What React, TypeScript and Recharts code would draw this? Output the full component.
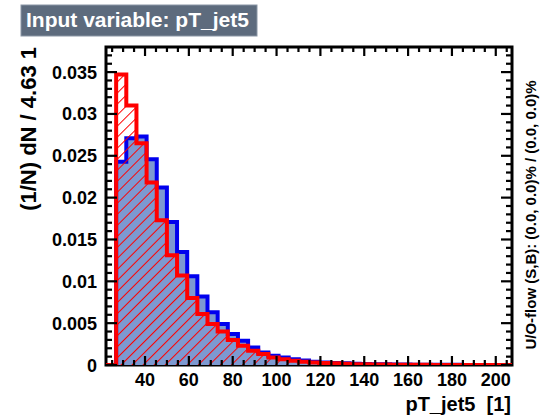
import React from "react";
import { ComposedChart, Area, XAxis, YAxis, ReferenceArea } from "recharts";

// ---- data (normalised histograms, bin width 4.63) ----
const X_MIN = 22.2;
const BIN_W = 4.63;
const Y_MAX = 0.038;

const sigValues = [
  0, 0.0243, 0.0271, 0.0273, 0.0246, 0.0212, 0.0171, 0.0135, 0.0106, 0.0082,
  0.0063, 0.0049, 0.0037, 0.0029, 0.0021, 0.0015, 0.0011, 0.0009, 0.0007, 0.00055,
  0.0004, 0.0003, 0.00025, 0.0002, 0.00015, 0.00012, 0.0001, 0.00008, 0.00006, 0.00005,
  0.00004, 0.00003, 0.00003, 0.00002, 0.00002, 0.00001, 0.00001, 0.00001, 0.00001, 0.00001,
];

const bkgValues = [
  0, 0.0347, 0.031, 0.0265, 0.0218, 0.0173, 0.0131, 0.0107, 0.008, 0.0061,
  0.0049, 0.004, 0.003, 0.0023, 0.0017, 0.0013, 0.0009, 0.0007, 0.0005, 0.0004,
  0.0003, 0.00025, 0.0002, 0.00015, 0.0001, 0.00008, 0.00006, 0.00005, 0.00004, 0.00003,
  0.00002, 0.00002, 0.00001, 0.00001, 0.00001, 0, 0, 0, 0, 0,
];

const xTicks = [
  25, 30, 35, 40, 45, 50, 55, 60, 65, 70, 75, 80, 85, 90, 95, 100, 105, 110, 115, 120,
  125, 130, 135, 140, 145, 150, 155, 160, 165, 170, 175, 180, 185, 190, 195, 200, 205,
];
const xMajorLabels = [40, 60, 80, 100, 120, 140, 160, 180, 200];

const yTicks = [
  0, 0.001, 0.002, 0.003, 0.004, 0.005, 0.006, 0.007, 0.008, 0.009, 0.01, 0.011, 0.012,
  0.013, 0.014, 0.015, 0.016, 0.017, 0.018, 0.019, 0.02, 0.021, 0.022, 0.023, 0.024,
  0.025, 0.026, 0.027, 0.028, 0.029, 0.03, 0.031, 0.032, 0.033, 0.034, 0.035, 0.036, 0.037,
];
const yMajorLabels = ["0", "0.005", "0.01", "0.015", "0.02", "0.025", "0.03", "0.035"];

const titleText = "Input variable: pT_jet5";
const yTitle = "(1/N) dN / 4.63 1";
const xTitle = "pT_jet5  [1]";
const flowText = "U/O-flow (S,B): (0.0, 0.0)% / (0.0, 0.0)%";

const X_MAX = X_MIN + BIN_W * sigValues.length;
const tableData = sigValues.map((s, i) => ({ x: X_MIN + i * BIN_W, s, b: bkgValues[i] }));
tableData.push({
  x: X_MAX,
  s: sigValues[sigValues.length - 1],
  b: bkgValues[bkgValues.length - 1],
});

// ---- layout ----
const W = 545;
const H = 420;
const M_TOP = 47;
const M_RIGHT = 33;
const Y_AXIS_W = 106;
const X_AXIS_H = 55;
const PLOT_W = W - Y_AXIS_W - M_RIGHT;
const PLOT_H = H - M_TOP - X_AXIS_H;
const FONT = "'Liberation Sans', Arial, Helvetica, sans-serif";

const BottomTick = (props: any) => {
  const { x, y, payload } = props;
  const v = payload.value;
  const major = xMajorLabels.some((m) => Math.abs(m - v) < 1e-6);
  const len = major ? 9 : 5;
  return (
    <g>
      <line x1={x} x2={x} y1={y} y2={y - len} stroke="#000" strokeWidth={2.2} />
      <line x1={x} x2={x} y1={y - PLOT_H} y2={y - PLOT_H + len} stroke="#000" strokeWidth={2.2} />
      {major && (
        <text x={x} y={y + 21} textAnchor="middle" fontFamily={FONT} fontWeight="bold" fontSize={18} fill="#000">
          {String(v)}
        </text>
      )}
    </g>
  );
};

const LeftTick = (props: any) => {
  const { x, y, payload } = props;
  const v = payload.value;
  const q = v / 0.005;
  const major = Math.abs(q - Math.round(q)) < 1e-6;
  const len = major ? 11 : 6;
  const label = major ? yMajorLabels[Math.round(q)] : null;
  return (
    <g>
      <line x1={x} x2={x + len} y1={y} y2={y} stroke="#000" strokeWidth={2.2} />
      <line x1={x + PLOT_W} x2={x + PLOT_W - len} y1={y} y2={y} stroke="#000" strokeWidth={2.2} />
      {label && (
        <text x={x - 9} y={y + 6.5} textAnchor="end" fontFamily={FONT} fontWeight="bold" fontSize={18} fill="#000">
          {label}
        </text>
      )}
    </g>
  );
};

export default function App() {
  return (
    <div style={{ position: "absolute", left: 0, top: 0, width: W, height: H, background: "#fff" }}>
      <ComposedChart
        width={W}
        height={H}
        data={tableData}
        margin={{ top: M_TOP, right: M_RIGHT, bottom: 0, left: 0 }}
      >
        <defs>
          <pattern id="hatch" width="7.8" height="7.8" patternUnits="userSpaceOnUse" patternTransform="rotate(45)">
            <line x1="0" y1="0" x2="0" y2="7.8" stroke="#ff0000" strokeWidth="2" />
          </pattern>
        </defs>
        <XAxis
          dataKey="x"
          type="number"
          domain={[X_MIN, X_MAX]}
          allowDataOverflow
          ticks={xTicks}
          interval={0}
          height={X_AXIS_H}
          tickSize={0}
          tickMargin={0}
          tickLine={false}
          axisLine={false}
          tick={<BottomTick />}
        />
        <YAxis
          type="number"
          domain={[0, Y_MAX]}
          allowDataOverflow
          ticks={yTicks}
          interval={0}
          width={Y_AXIS_W}
          tickSize={0}
          tickMargin={0}
          tickLine={false}
          axisLine={false}
          tick={<LeftTick />}
        />
        <ReferenceArea x1={X_MIN} x2={X_MAX} y1={0} y2={Y_MAX} fill="none" stroke="#000" strokeWidth={3} ifOverflow="visible" />
        <Area
          dataKey="s"
          type="stepAfter"
          fill="#7d99d1"
          fillOpacity={1}
          stroke="#0000ee"
          strokeWidth={4}
          dot={false}
          activeDot={false}
          isAnimationActive={false}
        />
        <Area
          dataKey="b"
          type="stepAfter"
          fill="url(#hatch)"
          fillOpacity={1}
          stroke="#ff0000"
          strokeWidth={4}
          dot={false}
          activeDot={false}
          isAnimationActive={false}
        />
      </ComposedChart>
      <svg width={W} height={H} style={{ position: "absolute", left: 0, top: 0, pointerEvents: "none" }}>
        <rect x={21} y={5} width={236} height={31} fill="#5d6b7d" stroke="#8a96a5" strokeWidth={1} />
        <text x={26} y={27} fontFamily={FONT} fontWeight="bold" fontSize={21} fill="#fff">
          {titleText}
        </text>
        <text
          transform="translate(36,47) rotate(-90)"
          textAnchor="end"
          fontFamily={FONT}
          fontWeight="bold"
          fontSize={22}
          fill="#000"
        >
          {yTitle}
        </text>
        <text
          x={511}
          y={411}
          textAnchor="end"
          fontFamily={FONT}
          fontWeight="bold"
          fontSize={20}
          fill="#000"
          style={{ whiteSpace: "pre" }}
        >
          {xTitle}
        </text>
        <text
          transform="translate(536,215) rotate(-90)"
          textAnchor="middle"
          fontFamily={FONT}
          fontWeight="bold"
          fontSize={15}
          fill="#000"
        >
          {flowText}
        </text>
      </svg>
    </div>
  );
}
